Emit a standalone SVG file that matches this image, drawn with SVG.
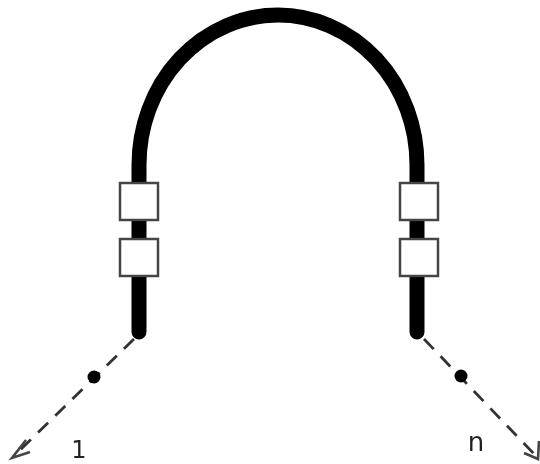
<svg xmlns="http://www.w3.org/2000/svg" width="540" height="464" viewBox="0 0 540 464">
<style>
.band{fill:none;stroke:#000;stroke-width:15;stroke-linecap:round}
.box{fill:#fff;stroke:#444;stroke-width:2.5}
.ray{fill:none;stroke:#333;stroke-width:2.8;stroke-dasharray:14 10}
.head{fill:none;stroke:#444;stroke-width:2.6}
.dot{fill:#000}
.lbl{font-family:"DejaVu Sans","Liberation Sans",sans-serif;fill:#222;text-anchor:middle}
</style>
<defs><filter id="soft" x="0" y="0" width="540" height="464" filterUnits="userSpaceOnUse"><feGaussianBlur stdDeviation="0.6"/></filter></defs>
<rect width="540" height="464" fill="#fff"/>
<g filter="url(#soft)">
<g id="connectors">
<path class="band" d="M139 332V165A139 150 0 0 1 417 165V332"/>
<path class="ray" d="M134 339L14 456"/>
<path class="head" d="M26 440L12 458L30 452"/>
<path class="ray" d="M424 339L536 456"/>
<path class="head" d="M539 441L538 459L524 453"/>
</g>
<g id="box-l1"><rect class="box" x="120" y="183" width="38" height="37"/></g>
<g id="box-l2"><rect class="box" x="120" y="239" width="38" height="37"/></g>
<g id="box-r1"><rect class="box" x="400" y="183" width="38" height="37"/></g>
<g id="box-r2"><rect class="box" x="400" y="239" width="38" height="37"/></g>
<g id="dot-l"><circle class="dot" cx="94" cy="377" r="6.5"/></g>
<g id="dot-r"><circle class="dot" cx="461" cy="376" r="6.5"/></g>
<g id="label-1"><text class="lbl" x="79" y="458" font-size="24">1</text></g>
<g id="label-n"><text class="lbl" x="476" y="451" font-size="26">n</text></g>
</g>
</svg>
